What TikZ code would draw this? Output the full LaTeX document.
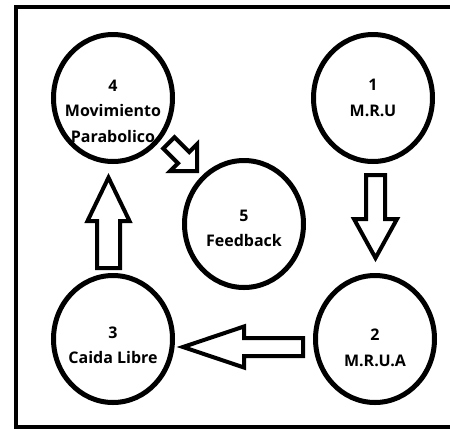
\documentclass[tikz,border=0pt]{standalone}
\usepackage{fontspec}
\setsansfont{Open Sans}
\usetikzlibrary{positioning,calc,shapes.geometric}
% tail point, angle, shaft length, shaft half width, head half width, head length
\newcommand{\blockarrow}[6]{%
  \draw[bigarrow, shift={#1}, rotate=#2]
    (0,-#4) -- (#3,-#4) -- (#3,-#5) -- (#3+#6,0) -- (#3,#5) -- (#3,#4) -- (0,#4) -- cycle;}
\tikzset{
  ball/.style={
    ellipse, draw, line width=5pt,
    minimum width=119pt, minimum height=127pt, inner sep=0pt
  },
  every label/.style={
    align=center,
    font=\sffamily\bfseries\fontsize{16}{25.5}\selectfont
  },
  bigarrow/.style={draw, line width=4pt, line join=miter}
}

\begin{document}
\begin{tikzpicture}[x=1pt,y=-1pt]
  \clip (0,0) rectangle (450,429);
  \draw[line width=3.3pt] (16,7) rectangle (470,427);

  \node[ball, label={[yshift=-13pt]center:4\\Movimiento\\Parabolico}] (c4) at (113,98) {};
  \node[ball, on grid, right=260pt of c4, label={center:1\\M.R.U}] (c1) {};
  \node[ball, on grid, below=241pt of c4, label={[yshift=-6.5pt]center:3\\Caida Libre}] (c3) {};
  \node[ball, on grid, right=262pt of c3, label={[yshift=-9pt]center:2\\M.R.U.A}] (c2) {};
  \node[ball, on grid, below right=126pt and 131pt of c4, label={[yshift=-4.5pt]center:5\\Feedback}] (c5) {};

  \blockarrow{($(c1)+(2.5,77)$)}{-90}{44}{9.5}{21.5}{39}
  \blockarrow{($(c2)+(-72,8)$)}{180}{59}{9}{20.5}{61}
  \blockarrow{($(c3)+(-4.5,-71)$)}{90}{47}{11.5}{21}{43.4}
  \blockarrow{($(c4)+(55.9,44.9)$)}{-45}{20.8}{8}{19}{19}
\end{tikzpicture}
\end{document}
